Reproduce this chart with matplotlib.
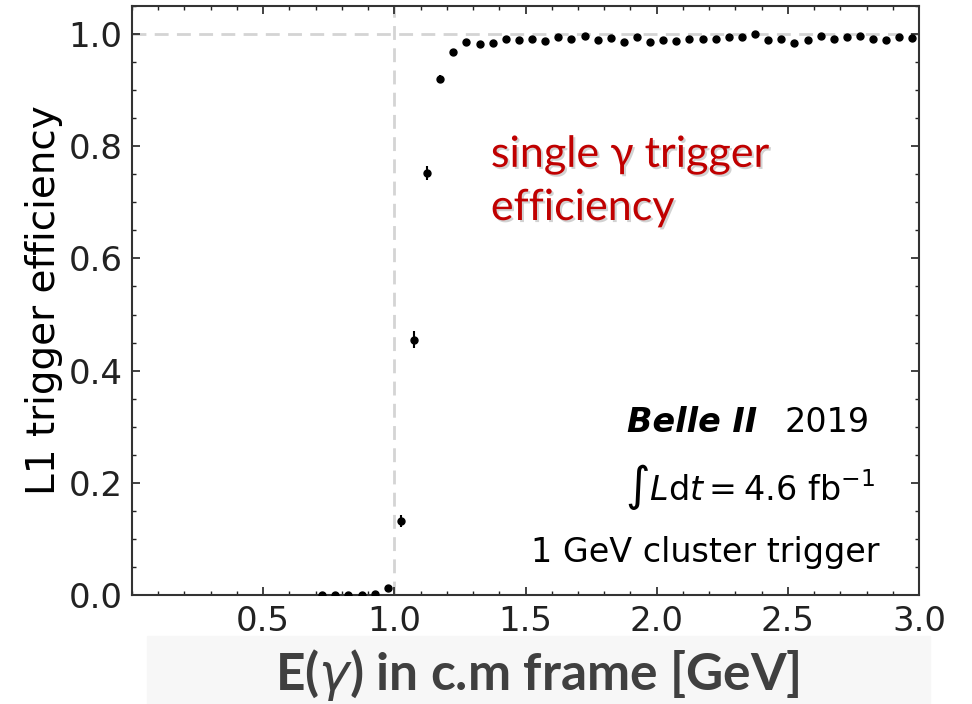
import matplotlib
matplotlib.use("Agg")
import matplotlib.pyplot as plt
import matplotlib.patheffects as pe
from matplotlib.patches import Rectangle
from matplotlib.ticker import MultipleLocator

# photon energy bin centres (GeV) and measured L1 efficiency
energy = [0.725, 0.775, 0.825, 0.875, 0.925, 0.975, 1.025, 1.075, 1.125, 1.175,
          1.225, 1.275, 1.325, 1.375, 1.425, 1.475, 1.525, 1.575, 1.625, 1.675,
          1.725, 1.775, 1.825, 1.875, 1.925, 1.975, 2.025, 2.075, 2.125, 2.175,
          2.225, 2.275, 2.325, 2.375, 2.425, 2.475, 2.525, 2.575, 2.625, 2.675,
          2.725, 2.775, 2.825, 2.875, 2.925, 2.975]
efficiency = [0.000, 0.000, 0.000, 0.000, 0.001, 0.013, 0.132, 0.455, 0.752, 0.920,
              0.968, 0.985, 0.983, 0.984, 0.991, 0.989, 0.991, 0.988, 0.994, 0.992,
              0.996, 0.989, 0.993, 0.986, 0.995, 0.985, 0.990, 0.988, 0.991, 0.991,
              0.991, 0.995, 0.995, 1.000, 0.990, 0.992, 0.984, 0.990, 0.997, 0.991,
              0.995, 0.997, 0.991, 0.990, 0.994, 0.993]
error = [0.001, 0.001, 0.001, 0.001, 0.001, 0.003, 0.011, 0.015, 0.013, 0.007,
         0.004, 0.003, 0.003, 0.003, 0.002, 0.002, 0.002, 0.002, 0.002, 0.002,
         0.002, 0.002, 0.002, 0.002, 0.002, 0.002, 0.002, 0.002, 0.002, 0.002,
         0.002, 0.002, 0.002, 0.002, 0.002, 0.002, 0.002, 0.002, 0.002, 0.002,
         0.002, 0.002, 0.002, 0.002, 0.002, 0.002]

XTICKS = [0.5, 1.0, 1.5, 2.0, 2.5, 3.0]
YTICKS = [0.0, 0.2, 0.4, 0.6, 0.8, 1.0]

fig = plt.figure(figsize=(9.72, 7.04), dpi=100)
ax = fig.add_axes([0.1358, 0.1548, 0.8097, 0.8367])

ax.axhline(1.0, color="#d4d4d4", lw=2, ls=(0, (5, 3)), zorder=1)
ax.axvline(1.0, color="#d4d4d4", lw=2, ls=(0, (5, 3)), zorder=1)
ax.errorbar(energy, efficiency, yerr=error, fmt="o", color="black",
            ms=5, elinewidth=1.5, capsize=0, zorder=3)

ax.set_xlim(0.0, 3.0)
ax.set_ylim(0.0, 1.05)
ax.set_xticks(XTICKS)
ax.set_yticks(YTICKS)
ax.xaxis.set_minor_locator(MultipleLocator(0.1))
ax.yaxis.set_minor_locator(MultipleLocator(0.05))
ax.tick_params(which="both", direction="in", top=True, right=True,
               labelsize=24.5, colors="#222222")
ax.tick_params(which="major", length=6, width=1.2, pad=7)
ax.tick_params(which="minor", length=3, width=1.0)
for s in ax.spines.values():
    s.set_linewidth(1.5)
    s.set_color("#333333")
ax.set_ylabel("L1 trigger efficiency", fontsize=28, labelpad=4)

# experiment labels
fig.text(0.779, 0.386, "Belle II", fontsize=24, weight="bold",
         style="italic", ha="right", va="baseline")
fig.text(0.895, 0.386, "2019", fontsize=24, ha="right", va="baseline")
fig.text(0.9, 0.29, r"$\int L\mathrm{d}t = 4.6\ \mathrm{fb}^{-1}$",
         fontsize=24, ha="right", va="baseline")
fig.text(0.905, 0.2017, "1 GeV cluster trigger", fontsize=24,
         ha="right", va="baseline")

# slide annotation
shadow = [pe.withSimplePatchShadow(offset=(1.5, -1.5), shadow_rgbFace="gray",
                                   alpha=0.35)]
fig.text(0.505, 0.763, "single γ trigger", color="#c00000", fontsize=31,
         family=["Lato", "DejaVu Serif"], ha="left", va="baseline",
         path_effects=shadow)
fig.text(0.505, 0.6875, "efficiency", color="#c00000", fontsize=31,
         family=["Lato", "DejaVu Serif"], ha="left", va="baseline",
         path_effects=shadow)

# slide x-axis title band
fig.patches.append(Rectangle((0.151, 0.0), 0.806, 0.097,
                             transform=fig.transFigure, color="#f7f7f7",
                             zorder=0))
fig.text(0.553, 0.02, r"E($\gamma$) in c.m frame [GeV]", color="#404040",
         fontsize=37, family="Lato", weight="bold", ha="center",
         va="baseline")

fig.savefig("out.png", dpi=100)
